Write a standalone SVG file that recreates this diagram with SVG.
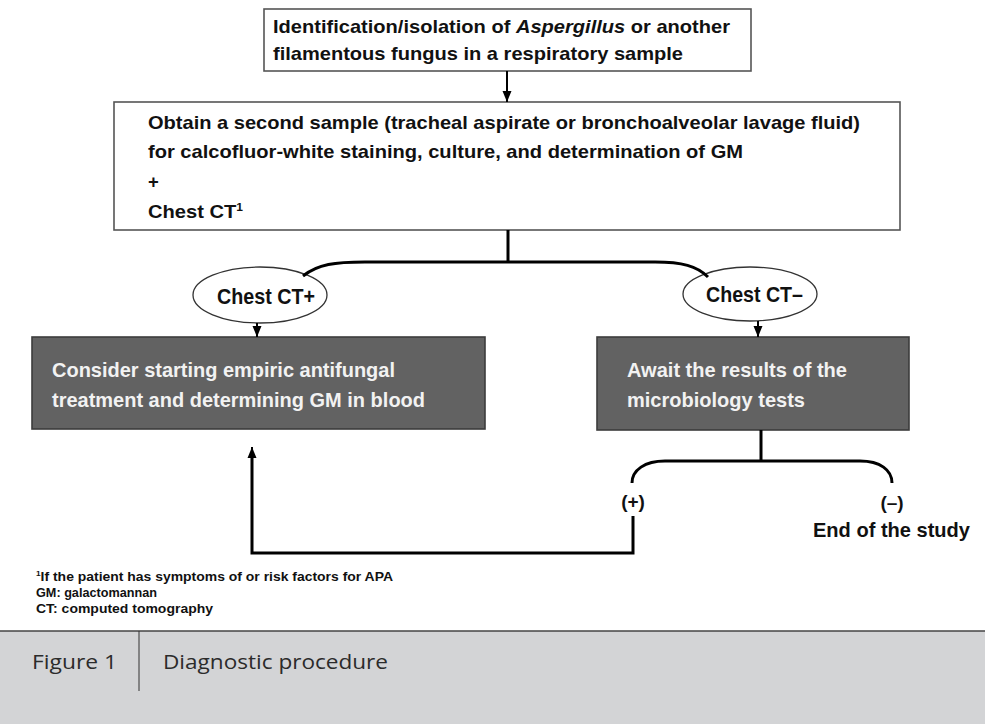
<svg xmlns="http://www.w3.org/2000/svg" width="985" height="724" viewBox="0 0 985 724">
<defs>
<marker id="ah" markerUnits="userSpaceOnUse" markerWidth="12" markerHeight="12" viewBox="0 0 12 12" refX="11" refY="6" orient="auto">
<path d="M0,1.5 L11,6 L0,10.5 Z" fill="#000"/>
</marker>
<style>
.box{fill:#fff;stroke:#555;stroke-width:1.6}
.gbox{fill:#626262;stroke:#3c3c3c;stroke-width:1.6}
.ell{fill:#fff;stroke:#333;stroke-width:1.3}
.t{font-family:"Liberation Sans",Arial,sans-serif;font-weight:bold;fill:#111}
.w{font-family:"Liberation Sans",Arial,sans-serif;font-weight:bold;fill:#f2f2f2}
.conn{fill:none;stroke:#000;stroke-width:3}
.arr{fill:none;stroke:#000;stroke-width:2}
.cap{font-family:"Open Sans","Noto Sans",sans-serif;fill:#2b2b2b}
</style>
</defs>
<rect x="0" y="0" width="985" height="724" fill="#fff"/>

<g id="node-identification">
<rect class="box" x="264" y="9" width="487" height="62"/>
<text class="t" x="273" y="33" font-size="18.5" textLength="457" lengthAdjust="spacingAndGlyphs">Identification/isolation of <tspan font-style="italic">Aspergillus</tspan> or another</text>
<text class="t" x="273" y="60" font-size="18.5" textLength="410" lengthAdjust="spacingAndGlyphs">filamentous fungus in a respiratory sample</text>
</g>

<g id="node-second-sample">
<rect class="box" x="114" y="102" width="786" height="128"/>
<text class="t" x="148" y="129" font-size="18.5" textLength="712" lengthAdjust="spacingAndGlyphs">Obtain a second sample (tracheal aspirate or bronchoalveolar lavage fluid)</text>
<text class="t" x="148" y="158" font-size="18.5" textLength="595" lengthAdjust="spacingAndGlyphs">for calcofluor-white staining, culture, and determination of GM</text>
<text class="t" x="148" y="188" font-size="18.5">+</text>
<text class="t" x="148" y="218" font-size="18.5" textLength="95" lengthAdjust="spacingAndGlyphs">Chest CT<tspan font-size="11" dy="-7">1</tspan></text>
</g>

<g id="node-ct-pos">
<ellipse class="ell" cx="260" cy="295" rx="67" ry="28"/>
<text class="t" x="217" y="304" font-size="22" textLength="98" lengthAdjust="spacingAndGlyphs">Chest CT+</text>
</g>

<g id="node-ct-neg">
<ellipse class="ell" cx="750" cy="294" rx="67" ry="27"/>
<text class="t" x="706" y="302" font-size="22" textLength="97" lengthAdjust="spacingAndGlyphs">Chest CT–</text>
</g>

<g id="node-consider">
<rect class="gbox" x="32" y="337" width="453" height="92"/>
<text class="w" x="52" y="377" font-size="21" textLength="343" lengthAdjust="spacingAndGlyphs">Consider starting empiric antifungal</text>
<text class="w" x="52" y="407" font-size="21" textLength="373" lengthAdjust="spacingAndGlyphs">treatment and determining GM in blood</text>
</g>

<g id="node-await">
<rect class="gbox" x="597" y="337" width="312" height="93"/>
<text class="w" x="627" y="377" font-size="21" textLength="220" lengthAdjust="spacingAndGlyphs">Await the results of the</text>
<text class="w" x="627" y="407" font-size="21" textLength="178" lengthAdjust="spacingAndGlyphs">microbiology tests</text>
</g>

<g id="node-positive">
<text class="t" x="633" y="508" font-size="19" text-anchor="middle">(+)</text>
</g>

<g id="node-negative">
<text class="t" x="892" y="509" font-size="19" text-anchor="middle">(–)</text>
<text class="t" x="813" y="537" font-size="21" textLength="157" lengthAdjust="spacingAndGlyphs">End of the study</text>
</g>

<g id="connectors">
<line class="arr" x1="507" y1="71" x2="507" y2="102" marker-end="url(#ah)"/>
<line class="conn" x1="508" y1="230" x2="508" y2="262"/>
<path class="conn" d="M303,276 C318,264 335,262 365,262 L655,262 C682,262 697,266 708,277"/>
<line class="arr" x1="257" y1="323" x2="257" y2="337" marker-end="url(#ah)"/>
<line class="arr" x1="758" y1="321" x2="758" y2="337" marker-end="url(#ah)"/>
<line class="conn" x1="761" y1="430" x2="761" y2="461"/>
<path class="conn" d="M632,483 C632,470 645,461 665,461 L860,461 C880,461 892,470 892,483"/>
<polyline class="conn" points="633,516 633,553 252,553 252,458"/>
<line class="arr" x1="252" y1="460" x2="252" y2="447" marker-end="url(#ah)"/>
</g>

<g id="footnotes">
<text class="t" x="36" y="581" font-size="13.5" textLength="357" lengthAdjust="spacingAndGlyphs"><tspan font-size="8" dy="-5">1</tspan><tspan dy="5">If the patient has symptoms of or risk factors for APA</tspan></text>
<text class="t" x="36" y="597" font-size="13.5" textLength="121" lengthAdjust="spacingAndGlyphs">GM: galactomannan</text>
<text class="t" x="36" y="613" font-size="13.5" textLength="177" lengthAdjust="spacingAndGlyphs">CT: computed tomography</text>
</g>

<g id="caption">
<rect x="0" y="631" width="985" height="93" fill="#d3d4d6"/>
<line x1="0" y1="631" x2="985" y2="631" stroke="#444" stroke-width="1.5"/>
<line x1="139" y1="631" x2="139" y2="691" stroke="#333" stroke-width="1"/>
<text class="cap" x="32" y="669" font-size="20" textLength="85" lengthAdjust="spacingAndGlyphs">Figure 1</text>
<text class="cap" x="163" y="669" font-size="20" textLength="225" lengthAdjust="spacingAndGlyphs">Diagnostic procedure</text>
</g>
</svg>
